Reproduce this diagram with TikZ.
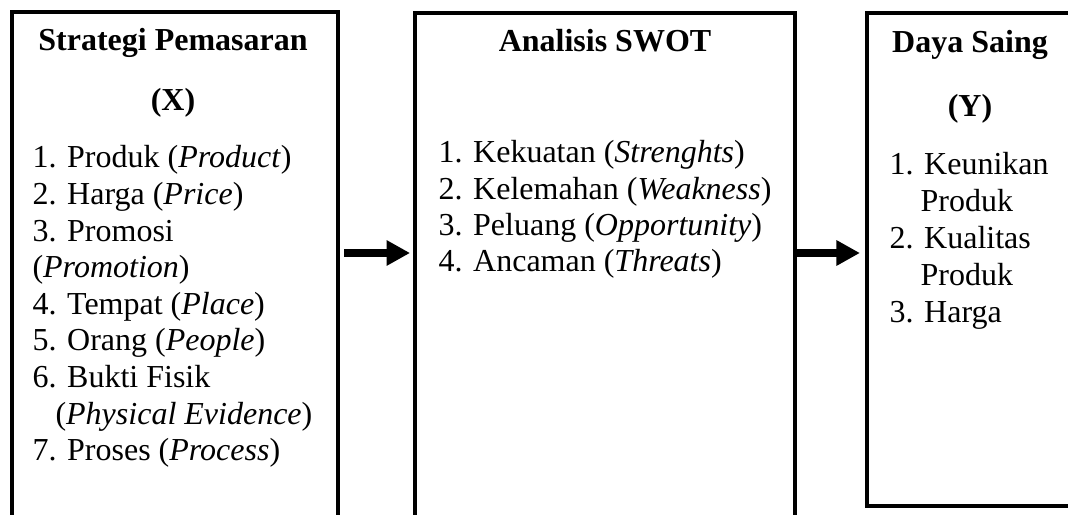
\documentclass[tikz,border=0pt]{standalone}
\usepackage{fontspec}
\setmainfont{Liberation Serif}
\usetikzlibrary{arrows.meta,positioning}

\tikzset{
	kotak/.style={draw, line width=1.5pt, inner sep=0pt},
	judul/.style={anchor=base, inner sep=0pt, font=\fontsize{12}{14}\selectfont\bfseries},
	butir/.style={anchor=base west, inner sep=0pt},
	panah/.style={line width=2.7pt, -{Triangle[length=8.8pt,width=9pt]}}
}

\begin{document}
\begin{tikzpicture}[x=0.375pt,y=-0.375pt,font=\fontsize{12}{14}\selectfont]
			\useasboundingbox (0,0) rectangle (1068,515);
			\clip (0,0) rectangle (1068,515);
			% kotak variabel
			\node[kotak, minimum width=122.25pt, minimum height=220.5pt] (strategi) at (175,306) {};
			\node[kotak, minimum width=142.5pt, minimum height=220.1pt] (swot) at (605,306.5) {};
			\node[kotak, minimum width=80.25pt, minimum height=184.9pt] (daya) at (974,259.5) {};
			% judul
			\node[judul] (judulx) at (173,51) {Strategi Pemasaran};
			\node[judul] (varx) at (173,111) {(X)};
			\node[judul] (judulswot) at (605,52) {Analisis SWOT};
			\node[judul] (juduly) at (970,53) {Daya Saing};
			\node[judul] (vary) at (970,117) {(Y)};
			% butir
			\foreach \x/\t [count=\i] in {32/{1. Produk (\textit{Product})},32/{2. Harga (\textit{Price})},32/{3. Promosi},32/{(\textit{Promotion})},32/{4. Tempat (\textit{Place})},32/{5. Orang (\textit{People})},32/{6. Bukti Fisik},55/{(\textit{Physical Evidence})},32/{7. Proses (\textit{Process})}}
				\node[butir] (bx\i) at (\x,131.4+36.6*\i) {\t};
			\foreach \t [count=\i] in {{1. Kekuatan (\textit{Strenghts})},{2. Kelemahan (\textit{Weakness})},{3. Peluang (\textit{Opportunity})},{4. Ancaman (\textit{Threats})}}
				\node[butir] (bs\i) at (438,126.7+36.3*\i) {\t};
			\foreach \x/\t [count=\i] in {889/{1. Keunikan},920/{Produk},889/{2. Kualitas},920/{Produk},889/{3. Harga}}
				\node[butir] (by\i) at (\x,138.2+36.8*\i) {\t};
			% panah
			\coordinate (lv) at (0,253);
			\draw[panah, shorten <=1.5pt, shorten >=1.1pt] (strategi.east |- lv) -- (swot.west |- lv);
			\draw[panah, shorten >=1.9pt] (swot.east |- lv) -- (daya.west |- lv);
		\end{tikzpicture}
\end{document}
